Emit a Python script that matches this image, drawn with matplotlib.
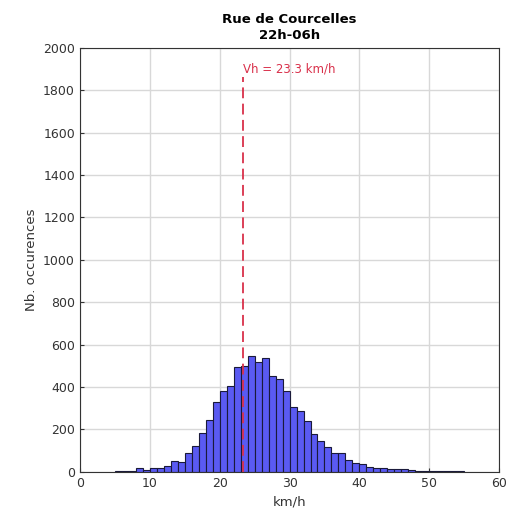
import numpy as np
import matplotlib
matplotlib.use("Agg")
import matplotlib.pyplot as plt

# bin left edges (km/h) and counts
bin_edges = list(range(5, 55))
counts = [3, 3, 3, 16, 11, 16, 16, 27, 49, 47,
          91, 123, 181, 246, 331, 381, 406, 495, 498, 548,
          518, 539, 454, 436, 381, 307, 288, 241, 180, 145,
          115, 87, 87, 58, 43, 35, 25, 19, 17, 14,
          13, 12, 9, 4, 3, 3, 3, 2, 2, 2]
vh = 23.3

fig = plt.figure(figsize=(5.12, 5.14), dpi=100)
ax = fig.add_axes([0.156, 0.082, 0.819, 0.825])

ax.bar(bin_edges, counts, width=1, align='edge', color='#5a5af2',
       edgecolor='#1a1a3a', linewidth=0.8, zorder=2)
ax.plot([vh, vh], [0, 1860], color='#d9304a', linestyle=(0, (6, 3)), linewidth=1.3, zorder=3)
ax.text(vh, 1900, 'Vh = 23.3 km/h', color='#d9304a', fontsize=8.5,
        ha='left', va='center', zorder=4)

ax.set_xlim(0, 60)
ax.set_ylim(0, 2000)
ax.set_xticks(range(0, 61, 10))
ax.set_yticks(range(0, 2001, 200))
ax.grid(True, color='#d8d8d8', linewidth=1, zorder=0)
ax.set_axisbelow(True)
ax.tick_params(direction='in', labelsize=9, colors='#333333', length=3)
for s in ax.spines.values():
    s.set_color('#333333')
    s.set_linewidth(0.8)

ax.set_title('Rue de Courcelles\n22h-06h', fontsize=9.5, fontweight='bold', linespacing=1.3)
ax.set_xlabel('km/h', fontsize=9.5, color='#333333')
ax.set_ylabel('Nb. occurences', fontsize=9.5, color='#333333')

fig.savefig('out.png', dpi=100)
